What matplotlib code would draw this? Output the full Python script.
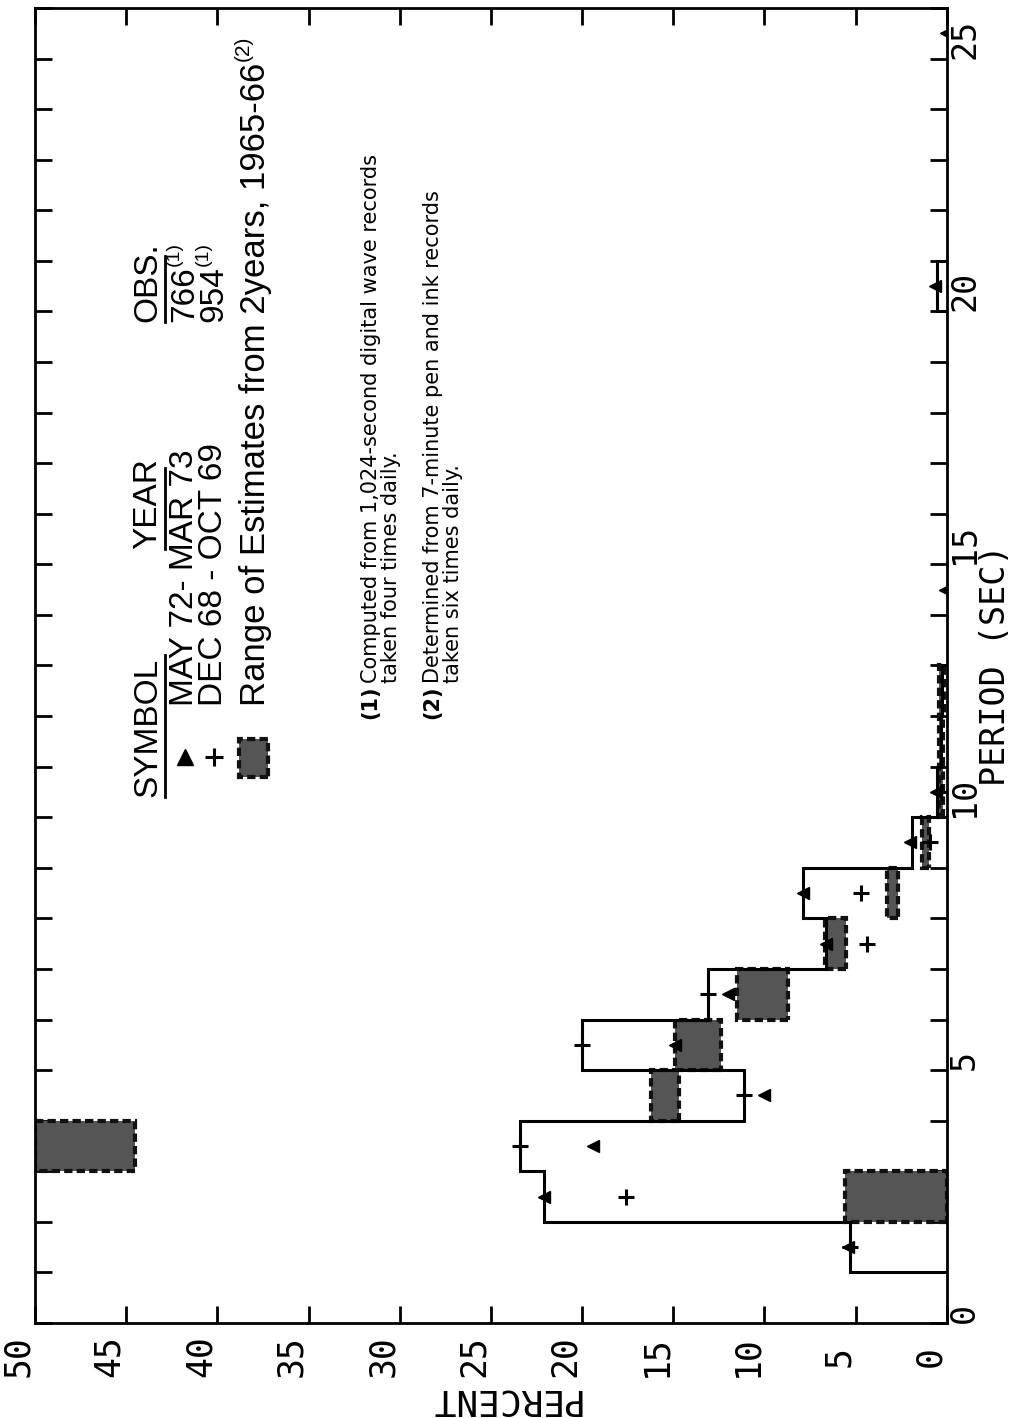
import matplotlib
matplotlib.use("Agg")
import matplotlib.pyplot as plt
from matplotlib.patches import Rectangle
from matplotlib.ticker import MultipleLocator, FuncFormatter

env_edges = [1, 2, 3, 4, 5, 6, 7, 8, 9, 10, 11, 12, 13]
env_pct = [5.3, 22.1, 23.4, 11.1, 20.0, 13.1, 6.6, 7.9, 1.9, 0.55, 0.3, 0.25]
tail_edges = [20, 21]
tail_pct = [0.55]

tri_period = [1.5, 2.5, 3.5, 4.5, 5.5, 6.5, 7.5, 8.5, 9.5, 10.5, 14.5, 20.5, 25.5]
tri_pct = [5.4, 22.1, 19.4, 10.0, 14.9, 12.0, 6.6, 7.9, 2.0, 0.6, 0.1, 0.65, 0.05]

plus_period = [1.5, 2.5, 3.5, 4.5, 5.5, 6.5, 7.5, 8.5, 9.5, 10.5]
plus_pct = [5.3, 17.6, 23.4, 11.1, 20.0, 13.1, 4.4, 4.7, 0.9, 0.3]

range_period = [2, 3, 4, 5, 6, 7, 8, 9, 10, 11, 12]
range_lo = [0.0, 44.5, 14.7, 12.4, 8.7, 5.5, 2.65, 1.0, 0.2, 0.2, 0.15]
range_hi = [5.6, 50.0, 16.2, 14.9, 11.5, 6.7, 3.3, 1.35, 0.4, 0.45, 0.4]

mono = 'DejaVu Sans Mono'
sans = ['Liberation Sans', 'DejaVu Sans']

fig = plt.figure(figsize=(10.10, 14.18), dpi=100)
ax = fig.add_axes([0.0347, 0.0670, 0.9027, 0.9274])

# range of estimates boxes
for p0, lo, hi in zip(range_period, range_lo, range_hi):
    ax.add_patch(Rectangle((lo, p0), hi - lo, 1, facecolor='#555555',
                           edgecolor='#111111', lw=3, ls=(0, (2, 1)), zorder=2))

# envelope step outline
ax.stairs(env_pct, env_edges, orientation='horizontal', baseline=0,
          color='black', lw=2.2, zorder=3)
ax.stairs(tail_pct, tail_edges, orientation='horizontal', baseline=0,
          color='black', lw=2.2, zorder=3)

ax.plot(tri_pct, tri_period, ls='none', marker='<', ms=9, color='black', zorder=4)
ax.plot(plus_pct, plus_period, ls='none', marker='+', ms=12, mew=2.2,
        color='black', zorder=4)

ax.set_xlim(50, 0)
ax.set_ylim(0, 26)
for s in ax.spines.values():
    s.set_linewidth(2)

ax.xaxis.set_major_locator(MultipleLocator(5))
ax.yaxis.set_major_locator(MultipleLocator(1))
ax.yaxis.set_major_formatter(FuncFormatter(lambda v, pos: f"{int(v)}" if int(v) % 5 == 0 else ""))
ax.tick_params(axis='both', direction='in', length=12, width=2, top=True, right=True)
ax.tick_params(axis='x', labelsize=25, pad=24)
ax.tick_params(axis='y', labelleft=False, labelright=True, labelsize=24, pad=1)
for lbl in ax.get_xticklabels():
    lbl.set_rotation(90)
    lbl.set_ha('right')
    lbl.set_va('center')
    lbl.set_family(mono)
for lbl in ax.get_yticklabels():
    lbl.set_rotation(90)
    lbl.set_ha('left')
    lbl.set_va('bottom')
    lbl.set_family(mono)

# axis titles
ax.text(1.035, 13, "PERIOD (SEC)", transform=ax.get_yaxis_transform(),
        rotation=90, ha='left', va='center', fontsize=24, family=mono)
ax.text(24.3, -0.058, "PERCENT", transform=ax.get_xaxis_transform(),
        rotation=180, ha='center', va='center', fontsize=26, family=mono)

# legend block
txt = dict(rotation=90, rotation_mode='anchor', ha='left', va='center',
           fontsize=24, family=sans)
sup = dict(rotation=90, rotation_mode='anchor', ha='left', va='center',
           fontsize=14, family=sans)
ax.text(43.8, 10.4, "SYMBOL", **txt)
ax.text(43.8, 15.3, "YEAR", **txt)
ax.text(43.8, 19.8, "OBS.", **txt)
for a, b in [(10.4, 13.2), (15.3, 16.9), (19.8, 21.1)]:
    ax.plot([42.9, 42.9], [a, b], color='black', lw=2)

ax.plot([41.8], [11.2], marker='^', ms=11, color='black', ls='none')
ax.text(41.8, 12.2, "MAY 72- MAR 73", **txt)
ax.text(41.8, 19.8, "766", **txt)
ax.text(42.35, 20.9, "(1)", **sup)

ax.plot([40.2], [11.2], marker='+', ms=13, mew=2.2, color='black', ls='none')
ax.text(40.2, 12.2, "DEC 68 - OCT 69", **txt)
ax.text(40.2, 19.8, "954", **txt)
ax.text(40.75, 20.9, "(1)", **sup)

ax.add_patch(Rectangle((37.2, 10.8), 1.6, 0.75, facecolor='#555555',
                       edgecolor='#111111', lw=3, ls=(0, (2, 1))))
ax.text(37.9, 12.2, "Range of Estimates from 2years, 1965-66",
        **{**txt, 'fontsize': 25})
ax.text(38.6, 24.95, "(2)", **{**sup, 'fontsize': 15})

note = dict(rotation=90, rotation_mode='anchor', ha='left', va='center',
            fontsize=15, family=['DejaVu Sans'])
ax.text(31.6, 11.95, "(1)", fontweight='bold', **note)
ax.text(31.6, 12.65, "Computed from 1,024-second digital wave records", **note)
ax.text(30.5, 12.65, "taken four times daily.", **note)
ax.text(28.2, 11.95, "(2)", fontweight='bold', **note)
ax.text(28.2, 12.65, "Determined from 7-minute pen and ink records", **note)
ax.text(27.1, 12.65, "taken six times daily.", **note)

fig.savefig("out.png", dpi=100)
